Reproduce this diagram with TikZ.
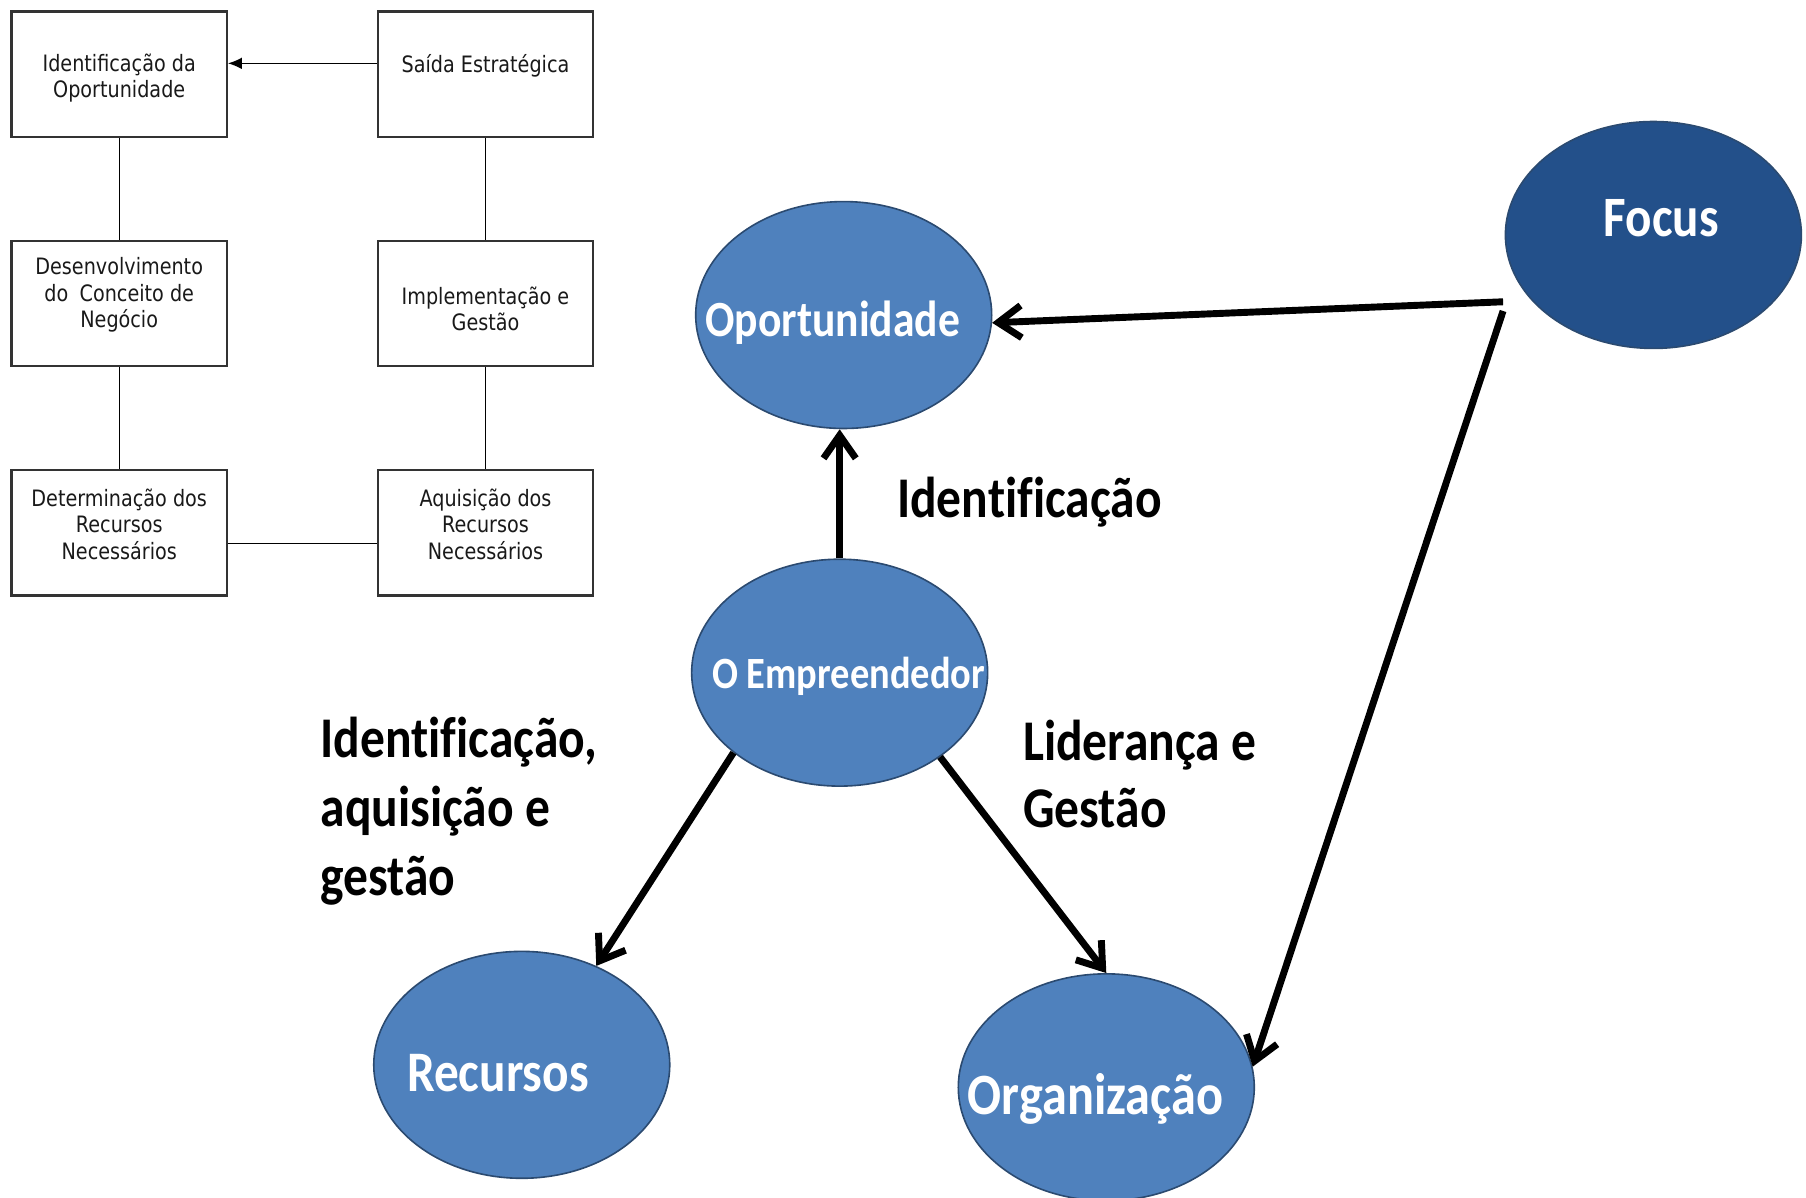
\documentclass[tikz,border=0pt]{standalone}
\usepackage{fontspec}
\setmainfont{Carlito}
\newfontfamily\boxfont{DejaVu Sans}[FakeStretch=0.85]
\newfontfamily\callfont{Carlito}[FakeStretch=0.86,Ligatures=NoCommon]
\usetikzlibrary{shapes.geometric,arrows.meta}
\definecolor{blobblue}{HTML}{4F81BD}
\definecolor{focusblue}{HTML}{23508A}
\definecolor{rimblue}{HTML}{2B4A70}

\begin{document}
\begin{tikzpicture}[
		x=0.5pt,y=-0.5pt,
		stepbox/.style={draw=black!80,line width=0.9pt,minimum width=93.5pt,minimum height=54.5pt,inner sep=0pt},
		steptext/.style={text=black!90,font=\boxfont\fontsize{9.8}{11.5}\selectfont,align=center,inner sep=0pt},
		link/.style={line width=0.6pt},
		blob/.style={ellipse,draw=rimblue,line width=0.7pt,fill=blobblue,minimum width=128.5pt,minimum height=98.5pt,inner sep=0pt},
		blobtext/.style={text=white,anchor=base west,inner sep=0pt,font=\callfont\bfseries\fontsize{#1}{#1}\selectfont},
		push/.style={line width=3pt,-{Straight Barb[length=10pt,width=14pt]}},
		bigtext/.style={anchor=north west,inner sep=0pt,align=left,font=\callfont\bfseries\fontsize{25}{#1}\selectfont}
	]
	\useasboundingbox (0,0) rectangle (1568,1040);

	% process boxes
	\node[stepbox] (idop) at (103.5,64.5) {};
	\node[stepbox] (said) at (421.5,64.5) {};
	\node[stepbox] (desc) at (103.5,263.5) {};
	\node[stepbox] (impl) at (421.5,263.5) {};
	\node[stepbox] (detr) at (103.5,462.5) {};
	\node[stepbox] (aqui) at (421.5,462.5) {};

	\node[steptext] (idop-t) at (103.5,68) {Identificação da\\Oportunidade};
	\node[steptext] (said-t) at (421.5,57) {Saída Estratégica};
	\node[steptext] (desc-t) at (103.5,256) {Desenvolvimento\\do\enspace Conceito de\\Negócio};
	\node[steptext] (impl-t) at (421.5,268) {Implementação e\\Gestão};
	\node[steptext] (detr-t) at (103.5,455) {Determinação dos\\Recursos\\Necessários};
	\node[steptext] (aqui-t) at (421.5,455) {Aquisição dos\\Recursos\\Necessários};

	\draw[link,-{Latex[length=6pt,width=5pt]}] ([yshift=4.75pt]said.west) -- ([yshift=4.75pt]idop.east);
	\draw[link] (idop) -- (desc);
	\draw[link] (desc) -- (detr);
	\draw[link] (said) -- (impl);
	\draw[link] (impl) -- (aqui);
	\draw[link] ([yshift=-4.75pt]detr.east) -- ([yshift=-4.75pt]aqui.west);

	% the model
	\node[blob] (opor) at (732.5,273.5) {};
	\node[blob] (empr) at (729,584) {};
	\node[blob,fill=focusblue] (focu) at (1435.5,204) {};
	\node[blob] (recu) at (453,924.5) {};
	\node[blob] (orga) at (960.5,944) {};

	\node[blobtext=22] (opor-t) at (612,292) {Oportunidade};
	\node[blobtext=24.8] (focu-t) at (1392,205) {Focus};
	\node[blobtext=19.4] (empr-t) at (618,597.5) {O Empreendedor};
	\node[blobtext=24.9] (recu-t) at (353,948) {Recursos};
	\node[blobtext=25.4] (orga-t) at (840,968) {Organização};

	\coordinate (fA) at (1305,262);
	\coordinate (fB) at (1305,270);
	\draw[push] (empr.north) -- (empr.north |- opor.south);
	\draw[push] (fA) -- (opor.-3);
	\draw[push] (fB) -- (orga.8);
	\draw[push] (empr.217) -- (recu.53);
	\draw[push] (empr.320) -- (orga.north);

	\node[bigtext=30] (lblid) at (778.5,413.5) {Identificação};
	\node[bigtext=30] (lblrec) at (278,622) {Identificação,\\aquisição e\\gestão};
	\node[bigtext=29] (lblorg) at (888,625) {Liderança e\\Gestão};
\end{tikzpicture}
\end{document}
